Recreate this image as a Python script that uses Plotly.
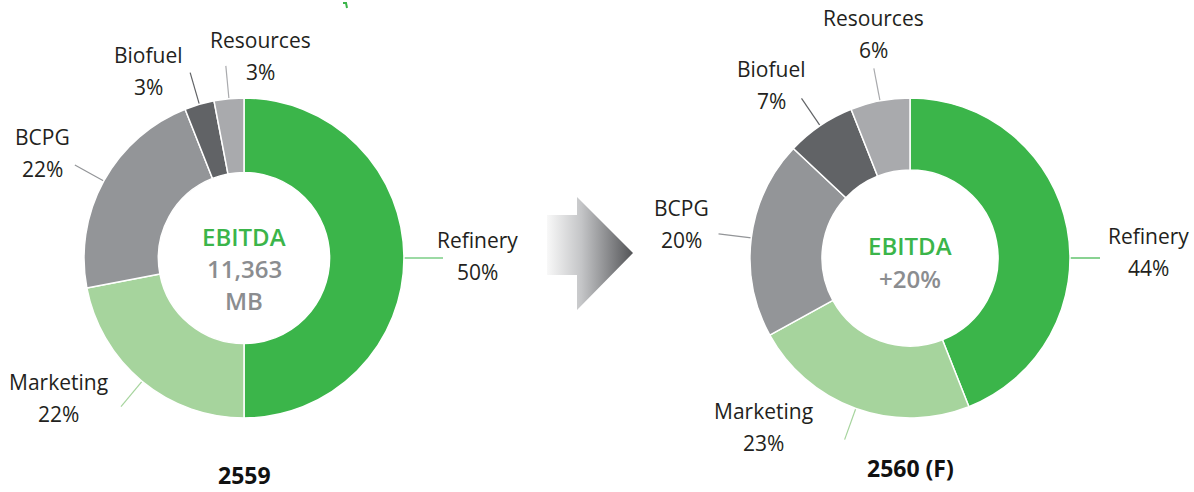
import math
import plotly.graph_objects as go

# ---------------- data ----------------
categories = ["Refinery", "Marketing", "BCPG", "Biofuel", "Resources"]
share_2559 = [50, 22, 22, 3, 3]
share_2560 = [44, 23, 20, 7, 6]
years = ["2559", "2560 (F)"]
center_2559 = ["EBITDA", "11,363", "MB"]
center_2560 = ["EBITDA", "+20%"]

# ---------------- style ----------------
W, H = 1194, 492
colors = ["#3bb54a", "#a6d49d", "#939598", "#616366", "#a9aaad"]
TEXT = "#231f20"
GREEN = "#3bb54a"
GREYTXT = "#8b8d90"
FONT = "Open Sans"

charts = [
    dict(values=share_2559, cx=244, cy=258, R=160, hole=0.535,
         center=center_2559, center_y=[236, 268, 300], center_size=[24, 24, 24],
         year=years[0], year_y=475,
         leader_len={"Refinery": 39}, leader_angle={},
         labels={"Refinery": (477, 240), "Marketing": (58, 382), "BCPG": (42, 137),
                 "Biofuel": (148, 55), "Resources": (260, 40)}),
    dict(values=share_2560, cx=910, cy=258, R=160, hole=0.55,
         center=center_2560, center_y=[245, 278], center_size=[24, 24],
         year=years[1], year_y=468,
         leader_len={"Refinery": 30}, leader_angle={"Refinery": 90},
         labels={"Refinery": (1148, 236), "Marketing": (763, 411), "BCPG": (681, 208),
                 "Biofuel": (771, 69), "Resources": (873, 18)}),
]
PCT_DY = 32

fig = go.Figure()
annotations = []

for ch in charts:
    cx, cy, R = ch["cx"], ch["cy"], ch["R"]
    fig.add_trace(go.Pie(
        labels=categories, values=ch["values"], sort=False, direction="clockwise",
        rotation=0, hole=ch["hole"], textinfo="none", hoverinfo="label+percent",
        marker=dict(colors=colors, line=dict(color="white", width=1.5)),
        domain=dict(x=[(cx - R) / W, (cx + R) / W],
                    y=[(H - cy - R) / H, (H - cy + R) / H]),
        showlegend=False,
    ))
    total = sum(ch["values"])
    cum = 0
    for cat, v, col in zip(categories, ch["values"], colors):
        mid = (cum + v / 2) / total * 360
        cum += v
        ang = math.radians(ch["leader_angle"].get(cat, mid))
        L = ch["leader_len"].get(cat, 33)
        x0, y0 = cx + R * math.sin(ang), cy - R * math.cos(ang)
        x1, y1 = cx + (R + L) * math.sin(ang), cy - (R + L) * math.cos(ang)
        fig.add_trace(go.Scatter(x=[x0, x1], y=[y0, y1], mode="lines",
                                 line=dict(color=col, width=1.2),
                                 hoverinfo="skip", showlegend=False))
        lx, ly = ch["labels"][cat]
        pct = round(v / total * 100)
        annotations.append(dict(x=lx, y=ly, xref="x", yref="y", text=cat, showarrow=False,
                                font=dict(family=FONT, size=21, color=TEXT)))
        annotations.append(dict(x=lx, y=ly + PCT_DY, xref="x", yref="y", text=f"{pct}%",
                                showarrow=False, font=dict(family=FONT, size=21, color=TEXT)))
    for i, (t, yy, sz) in enumerate(zip(ch["center"], ch["center_y"], ch["center_size"])):
        annotations.append(dict(x=cx, y=yy, xref="x", yref="y", text=t, showarrow=False,
                                font=dict(family=FONT, size=sz, weight=600,
                                          color=GREEN if i == 0 else GREYTXT)))
    annotations.append(dict(x=cx, y=ch["year_y"], xref="x", yref="y", text=f"<b>{ch['year']}</b>",
                            showarrow=False, font=dict(family=FONT, size=23, color="#111111")))

# gradient arrow between the two donuts
ax = [547, 577, 577, 633, 577, 577, 547, 547]
ay = [215, 215, 197, 253, 310, 275, 275, 215]
fig.add_trace(go.Scatter(
    x=ax, y=ay, mode="lines", fill="toself", line=dict(width=0, color="rgba(0,0,0,0)"),
    fillgradient=dict(type="horizontal",
                      colorscale=[[0, "#f8f8f8"], [0.4, "#c4c5c7"], [1, "#535457"]]),
    hoverinfo="skip", showlegend=False,
))

fig.update_layout(
    width=W, height=H, margin=dict(l=0, r=0, t=0, b=0),
    paper_bgcolor="white", plot_bgcolor="rgba(0,0,0,0)",
    xaxis=dict(range=[0, W], visible=False, fixedrange=True, domain=[0, 1]),
    yaxis=dict(range=[H, 0], visible=False, fixedrange=True, domain=[0, 1]),
    annotations=annotations,
    shapes=[dict(type="path", path="M 343 3 L 346 3 L 347 8", xref="x", yref="y",
                 line=dict(color=GREEN, width=2))],
)

fig.write_html("out.html", config={"displayModeBar": False},
               post_script="document.body.style.margin='0';document.body.style.overflow='hidden';")
